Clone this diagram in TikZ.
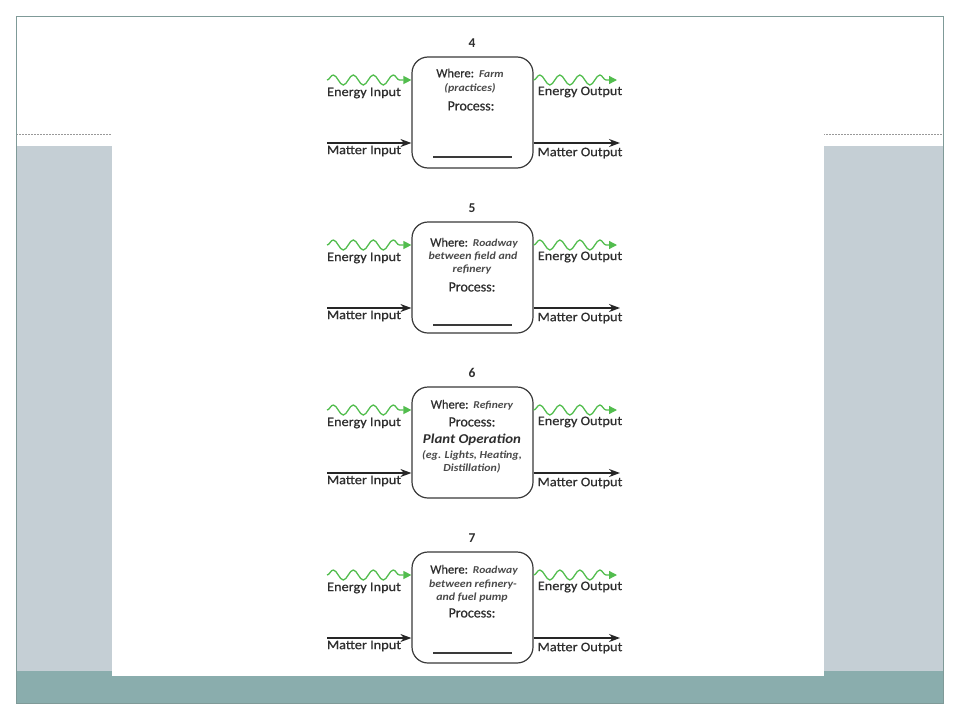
\documentclass[tikz,border=0pt]{standalone}
\usepackage{fontspec}
\setmainfont{Carlito}
\newfontfamily\lblfont[FakeStretch=1.1,FakeBold=0.7]{Carlito}
\newfontfamily\whfont[FakeBold=0.7]{Carlito}
\newfontfamily\itfont[FakeStretch=1.1]{Carlito}
\usetikzlibrary{decorations.pathmorphing,arrows.meta}
\definecolor{bandblue}{HTML}{C5CFD5}
\definecolor{bandteal}{HTML}{8AADAD}
\definecolor{framec}{HTML}{7F9A98}
\definecolor{wavegreen}{HTML}{52BD4E}
\definecolor{txt}{HTML}{2E2E2E}
\definecolor{itxt}{HTML}{4A4A4A}
\definecolor{boxc}{HTML}{3A3A3A}
\newcommand\itsm[1]{{\itfont\bfseries\itshape\fontsize{10.5}{12}\selectfont\color{itxt} #1}}
\begin{document}
\begin{tikzpicture}[x=1pt,y=-1pt,
  procbox/.style={draw=boxc, line width=1.2pt, rounded corners=16pt, minimum width=121pt, minimum height=111pt, inner sep=0pt, fill=white},
  energy/.style={draw=wavegreen, line width=1.3pt, decorate, decoration={snake, segment length=20pt, amplitude=5pt, post length=5pt}, -{Triangle[length=8pt,width=8pt,fill=wavegreen]}},
  matter/.style={draw=black!85, line width=1.4pt, -{Stealth[length=11pt,width=8pt]}},
  lbl/.style={font=\lblfont\fontsize{13}{14}\selectfont, text=txt, inner sep=0pt},
  ttl/.style={font=\bfseries\fontsize{13.5}{15}\selectfont, text=txt, inner sep=0pt},
  wh/.style={font=\whfont\fontsize{12.5}{14}\selectfont, text=txt, inner sep=0pt},
  pr/.style={font=\whfont\fontsize{14}{15}\selectfont, text=txt, inner sep=0pt},
  itl/.style={font=\itfont\bfseries\itshape\fontsize{10.8}{12}\selectfont, text=itxt, inner sep=0pt},
  big/.style={font=\itfont\bfseries\itshape\fontsize{13.5}{15}\selectfont, text=txt, inner sep=0pt},
  uline/.style={draw=boxc, line width=1.2pt}
]
\useasboundingbox (0,0) rectangle (960,720);
\fill[white] (0,0) rectangle (960,720);
% slide background
\fill[bandblue] (16,146) rectangle (943,671);
\fill[bandteal] (16,671) rectangle (943,703);
\draw[gray!80, dash pattern=on 2pt off 1pt, line width=0.8pt] (16,134) -- (943,134);
\draw[framec, line width=1pt] (16,16) rectangle (943,703);
\fill[white] (112,125) rectangle (824,676);
% blocks
\foreach \n/\ty in {4/57,5/222,6/387,7/552}{
  \node[ttl] (t\n) at (472,\ty-14) {\n};
  \node[procbox] (b\n) at (472.5,\ty+55.5) {};
  \coordinate (ei\n) at (327,\ty+23);
  \coordinate (eo\n) at (617,\ty+23);
  \coordinate (mi\n) at (327,\ty+86);
  \coordinate (mo\n) at (620,\ty+86);
  \draw[energy] (ei\n) -- (ei\n -| b\n.west);
  \draw[energy] (eo\n -| b\n.east) -- (eo\n);
  \draw[matter] (mi\n) -- (mi\n -| b\n.west);
  \draw[matter] (mo\n -| b\n.east) -- (mo\n);
  \node[lbl] (eil\n) at (364,\ty+36) {Energy Input};
  \node[lbl] (mil\n) at (364,\ty+94) {Matter Input};
  \node[lbl] (eol\n) at (580,\ty+35) {Energy Output};
  \node[lbl] (mol\n) at (580,\ty+96) {Matter Output};
}
% block 4 text
\node[wh] (w4) at (470,73) {Where:\hspace{5pt}\itsm{Farm}};
\node[itl] (a4) at (470,88) {(practices)};
\node[pr] (p4) at (471,106) {Process:};
\coordinate (u4a) at (433,157); \coordinate (u4b) at (512,157);
\draw[uline] (u4a) -- (u4b);
% block 5 text
\node[wh] (w5) at (474,243) {Where:\hspace{5pt}\itsm{Roadway}};
\node[itl] (a5) at (473,256) {between field and};
\node[itl] (c5) at (472,270) {refinery};
\node[pr] (p5) at (472,287) {Process:};
\coordinate (u5a) at (433,325); \coordinate (u5b) at (512,325);
\draw[uline] (u5a) -- (u5b);
% block 6 text
\node[wh] (w6) at (472,405) {Where:\hspace{5pt}\itsm{Refinery}};
\node[pr] (p6) at (472,422) {Process:};
\node[big] (q6) at (472,440) {Plant Operation};
\node[itl] (r6) at (472,455) {(eg. Lights, Heating,};
\node[itl] (s6) at (472,468) {Distillation)};
% block 7 text
\node[wh] (w7) at (474,570) {Where:\hspace{5pt}\itsm{Roadway}};
\node[itl] (a7) at (473,585) {between refinery-};
\node[itl] (c7) at (472,598) {and fuel pump};
\node[pr] (p7) at (472,613) {Process:};
\coordinate (u7a) at (433,653); \coordinate (u7b) at (512,653);
\draw[uline] (u7a) -- (u7b);
\end{tikzpicture}
\end{document}
